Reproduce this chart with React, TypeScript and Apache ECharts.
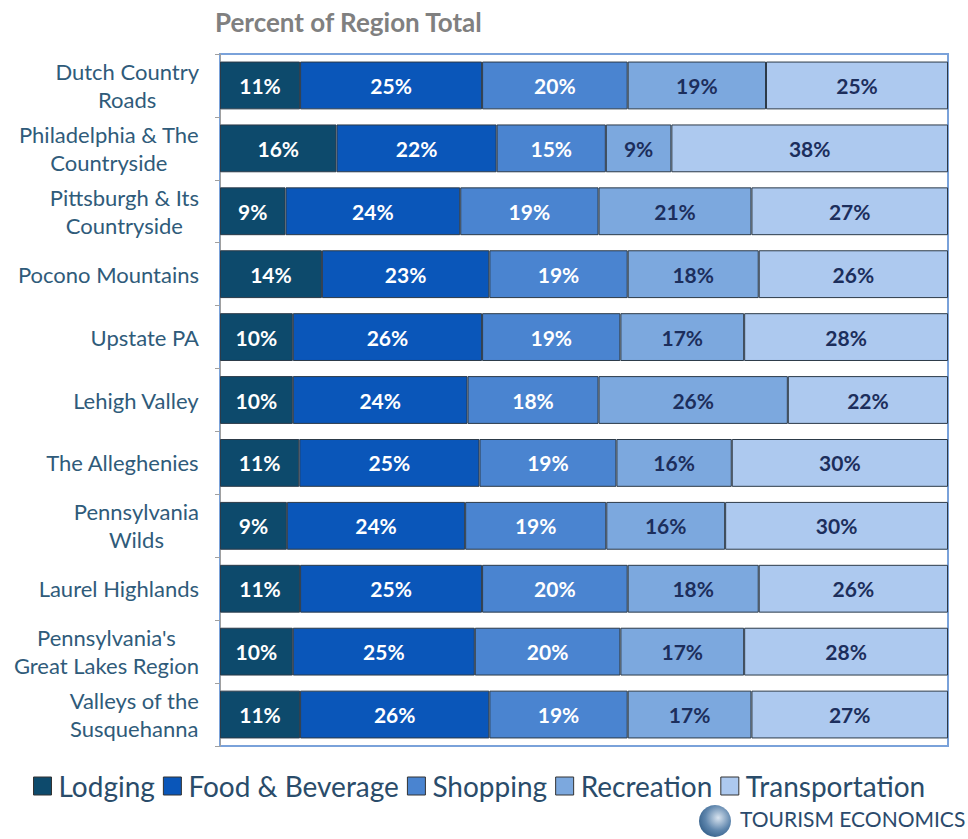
import React, { useEffect, useRef } from "react";
import * as echarts from "echarts";

const regions = [
  "Dutch Country\nRoads",
  "Philadelphia & The\nCountryside",
  "Pittsburgh & Its\nCountryside",
  "Pocono Mountains",
  "Upstate PA",
  "Lehigh Valley",
  "The Alleghenies",
  "Pennsylvania\nWilds",
  "Laurel Highlands",
  "Pennsylvania's\nGreat Lakes Region",
  "Valleys of the\nSusquehanna",
];

const seriesNames = ["Lodging", "Food & Beverage", "Shopping", "Recreation", "Transportation"];

const lodging = [11, 16, 9, 14, 10, 10, 11, 9, 11, 10, 11];
const foodBeverage = [25, 22, 24, 23, 26, 24, 25, 24, 25, 25, 26];
const shopping = [20, 15, 19, 19, 19, 18, 19, 19, 20, 20, 19];
const recreation = [19, 9, 21, 18, 17, 26, 16, 16, 18, 17, 17];
const transportation = [25, 38, 27, 26, 28, 22, 30, 30, 26, 28, 27];

const colors = ["#0d4a6c", "#0a56b9", "#4a84d0", "#7ca8de", "#adc9ef"];
const labelColors = ["#ffffff", "#ffffff", "#ffffff", "#1c2e5c", "#1c2e5c"];

const FONT = "Lato, 'Open Sans', sans-serif";

export default function App() {
  const ref = useRef<HTMLDivElement>(null);
  useEffect(() => {
    if (!ref.current) return;
    const chart = echarts.init(ref.current, undefined, { renderer: "svg" });
    const all = [lodging, foodBeverage, shopping, recreation, transportation];
    const totals = regions.map((_, i) => all.reduce((s, arr) => s + arr[i], 0));
    const series = all.map((arr, si) => ({
      name: seriesNames[si],
      type: "bar",
      stack: "total",
      barCategoryGap: "24%",
      data: arr.map((v, i) => ({ value: (v / totals[i]) * 100, raw: v })),
      itemStyle: { color: colors[si], borderColor: "#2c3a48", borderWidth: 1 },
      label: {
        show: true,
        position: "inside",
        formatter: (p: any) => `${p.data.raw}%`,
        color: labelColors[si],
        fontFamily: FONT,
        fontWeight: "bold",
        fontSize: 21,
      },
    }));
    chart.setOption({
      animation: false,
      title: {
        text: "Percent of Region Total",
        left: 210,
        top: 4,
        textStyle: { color: "#808080", fontSize: 26, fontWeight: "bold", fontFamily: FONT },
      },
      grid: {
        left: 220,
        right: 20,
        top: 54,
        bottom: 93,
        show: true,
        borderColor: "#7aa2da",
        borderWidth: 2,
        backgroundColor: "transparent",
      },
      legend: {
        data: seriesNames,
        left: 28,
        top: 767,
        itemWidth: 18,
        itemHeight: 18,
        itemGap: 8,
        icon: "rect",
        itemStyle: { borderColor: "#333", borderWidth: 1 },
        textStyle: { color: "#2a4c6a", fontSize: 28, fontFamily: FONT, padding: [0, 0, 0, 2] },
      },
      xAxis: {
        type: "value",
        min: 0,
        max: 100,
        show: false,
      },
      yAxis: {
        type: "category",
        data: regions,
        inverse: true,
        axisLine: { show: true, lineStyle: { color: "#a0a0a0", width: 1 } },
        axisTick: { show: true, length: 5, lineStyle: { color: "#a0a0a0" } },
        axisLabel: {
          margin: 21,
          align: "right",
          formatter: (v: string) =>
            v
              .split("\n")
              .map((l) => `{c|${l}}`)
              .join("\n"),
          rich: {
            c: {
              align: "center",
              color: "#2f5b7a",
              fontSize: 22,
              fontFamily: FONT,
              lineHeight: 28,
            },
          },
        },
      },
      series,
      graphic: [
        {
          type: "circle",
          shape: { cx: 715, cy: 821, r: 16 },
          style: {
            fill: new echarts.graphic.RadialGradient(0.6, 0.4, 0.8, [
              { offset: 0, color: "#d8e3ef" },
              { offset: 0.5, color: "#5f86ad" },
              { offset: 1, color: "#1f4c78" },
            ]),
          },
        },
        {
          type: "text",
          left: 740,
          top: 808,
          style: {
            text: "TOURISM ECONOMICS",
            fill: "#2b4a6c",
            fontSize: 21,
            fontFamily: FONT,
          },
        },
      ],
    });
    return () => chart.dispose();
  }, []);
  return <div ref={ref} style={{ width: 968, height: 839, position: "absolute", left: 0, top: 0 }} />;
}
